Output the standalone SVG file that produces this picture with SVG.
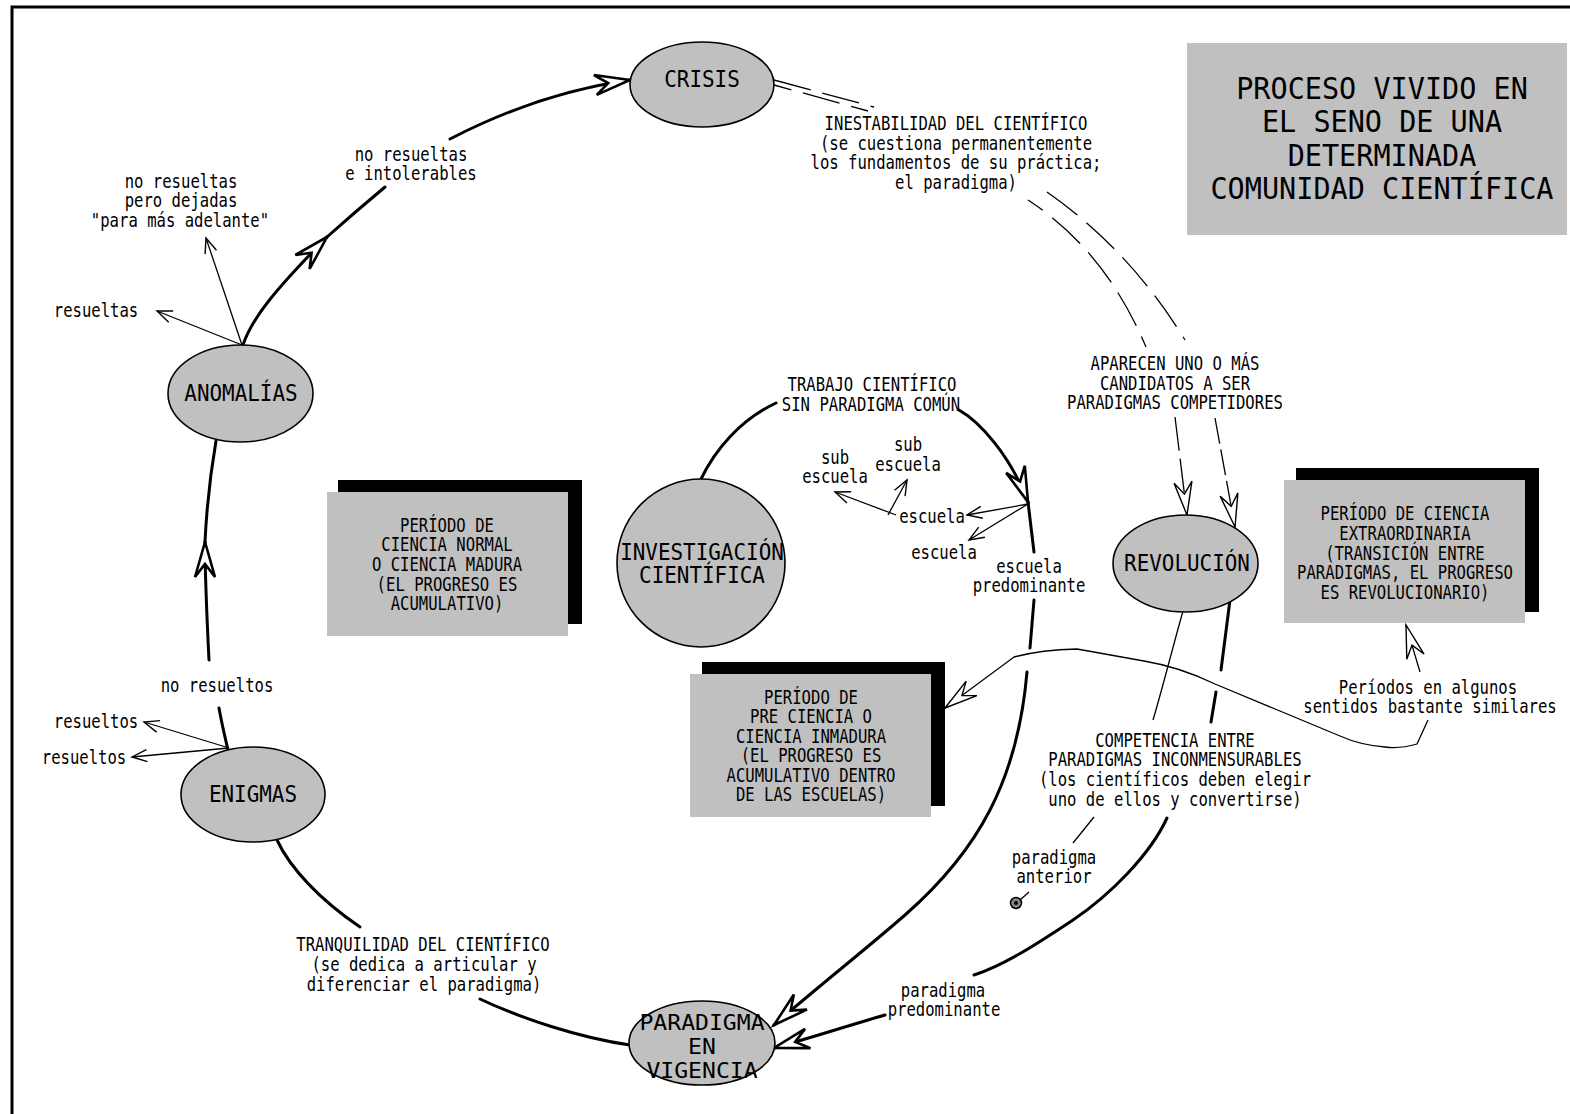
<svg xmlns="http://www.w3.org/2000/svg" width="1570" height="1114" viewBox="0 0 1570 1114">
<style>
text{font-family:"DejaVu Sans Mono","Liberation Mono",monospace;text-anchor:middle;fill:#000;transform-box:fill-box;transform-origin:center}
.s{font-size:19.5px;transform:scaleX(0.8)}
.n{font-size:23px;transform:scaleX(0.91)}
.nb{font-size:21px;transform:scaleX(1.1)}
.t{font-size:30px;transform:scaleX(0.95)}
.node{fill:#c0c0c0;stroke:#000;stroke-width:1.6}
.box{fill:#c0c0c0}
.shadow{fill:#000}
.k{fill:none;stroke:#000;stroke-width:3;stroke-linecap:round;stroke-linejoin:round}
.f{fill:none;stroke:#000;stroke-width:1.3}
.d{fill:none;stroke:#000;stroke-width:1.3;stroke-dasharray:38 12}
</style>
<defs>
<marker id="thin" markerUnits="userSpaceOnUse" viewBox="-18 -9 22 18" markerWidth="22" markerHeight="18" refX="0" refY="0" orient="auto"><path d="M-15,-6 L0,0 L-15,6" fill="none" stroke="#000" stroke-width="1.4"/></marker>
<marker id="big" markerUnits="userSpaceOnUse" viewBox="-40 -14 50 28" markerWidth="50" markerHeight="28" refX="0" refY="0" orient="auto"><path d="M0,0 L-35,-10 L-22,0 L-35,10 Z" fill="#fff" stroke="#000" stroke-width="2.6"/></marker>
<marker id="hollow" markerUnits="userSpaceOnUse" viewBox="-40 -14 50 28" markerWidth="50" markerHeight="28" refX="0" refY="0" orient="auto"><path d="M0,0 L-33,-9 L-21,0 L-33,9 Z" fill="#fff" stroke="#000" stroke-width="1.4"/></marker>
</defs>
<rect width="1570" height="1114" fill="#fff"/>
<path d="M12,1114 L12,7 L1570,7" fill="none" stroke="#000" stroke-width="3"/>

<g id="title">
<rect class="box" x="1187" y="43" width="380" height="192"/>
<text class="t" x="1382" y="99">PROCESO VIVIDO EN</text>
<text class="t" x="1382" y="132">EL SENO DE UNA</text>
<text class="t" x="1382" y="166">DETERMINADA</text>
<text class="t" x="1382" y="199">COMUNIDAD CIENTÍFICA</text>
</g>

<g id="connectors">
<path class="k" d="M243,345 C252,318 275,290 327,237" marker-end="url(#big)"/>
<path class="k" d="M327,237 Q355,212 385,187"/>
<path class="k" d="M450,139 C500,113 560,90 630,80" marker-end="url(#big)"/>
<path class="f" d="M242,345 L157,311" marker-end="url(#thin)"/>
<path class="f" d="M242,345 L206,238" marker-end="url(#thin)"/>
<path class="k" d="M209,660 C207,620 205,580 205,542" marker-end="url(#big)"/>
<path class="k" d="M205,542 C207,500 211,470 216,441"/>
<path class="k" d="M219,708 C222,725 225,737 228,750"/>
<path class="f" d="M229,748 L144,722" marker-end="url(#thin)"/>
<path class="f" d="M229,748 L132,757" marker-end="url(#thin)"/>
<path class="k" d="M277,840 C290,868 320,900 360,927"/>
<path class="k" d="M480,999 C520,1018 580,1038 630,1045"/>
<path class="d" d="M774,80 L874,107"/>
<path class="d" d="M774,85 L868,111" style="stroke-dashoffset:20"/>
<path class="d" d="M1047,192 Q1130,250 1185,340"/>
<path class="d" d="M1028,200 Q1105,250 1146,347" style="stroke-dashoffset:20"/>
<path class="d" d="M1175,417 L1187,515" style="stroke-dasharray:34 8" marker-end="url(#hollow)"/>
<path class="d" d="M1215,418 L1235,527" style="stroke-dasharray:26 6" marker-end="url(#hollow)"/>
<path class="k" d="M701,479 C715,450 740,420 776,403"/>
<path class="k" d="M959,410 C980,422 1010,455 1028,502" marker-end="url(#big)"/>
<path class="k" d="M1028,502 L1034,552"/>
<path class="k" d="M1034,600 L1030,648"/>
<path class="k" d="M1027,672 C1022,730 1008,775 990,810 S945,880 905,915 S820,985 774,1025" marker-end="url(#big)"/>
<path class="f" d="M1028,504 L967,515" marker-end="url(#thin)"/>
<path class="f" d="M1028,504 L969,540" marker-end="url(#thin)"/>
<path class="f" d="M896,515 L835,492" marker-end="url(#thin)"/>
<path class="f" d="M888,515 L907,480" marker-end="url(#thin)"/>
<path class="f" d="M1183,611 C1172,650 1162,690 1153,720"/>
<path class="f" d="M1094,817 L1073,843"/>
<path class="f" d="M1029,892 L1020,900"/>
<path class="k" d="M1230,600 L1221,670"/>
<path class="k" d="M1216,692 L1211,722"/>
<path class="k" d="M1167,818 C1150,855 1110,895 1073,920 C1040,942 1005,965 974,975"/>
<path class="k" d="M885,1015 C850,1025 820,1035 774,1048" marker-end="url(#big)"/>
<path class="f" d="M1428,720 L1417,744 Q1400,749 1385,747 Q1360,745 1340,736 L1215,684 Q1180,667 1144,661 L1077,649 Q1040,650 1014,657 L945,708" marker-end="url(#hollow)"/>
<path class="f" d="M1420,672 L1406,625" marker-end="url(#hollow)"/>
</g>

<g id="crisis">
<ellipse class="node" cx="702" cy="84.5" rx="72" ry="42.5"/>
<text class="n" x="702" y="87">CRISIS</text>
</g>
<g id="anomalias">
<ellipse class="node" cx="240.5" cy="393.5" rx="72.5" ry="48.5"/>
<text class="n" x="241" y="401">ANOMALÍAS</text>
</g>
<g id="enigmas">
<ellipse class="node" cx="253" cy="794.5" rx="72" ry="47.5"/>
<text class="n" x="253" y="802">ENIGMAS</text>
</g>
<g id="paradigma">
<ellipse class="node" cx="702" cy="1043" rx="73" ry="42"/>
<text class="nb" x="702" y="1030">PARADIGMA</text>
<text class="nb" x="702" y="1054">EN</text>
<text class="nb" x="702" y="1078">VIGENCIA</text>
</g>
<g id="revolucion">
<ellipse class="node" cx="1185.5" cy="563.5" rx="72.5" ry="48.5"/>
<text class="n" x="1187" y="571">REVOLUCIÓN</text>
</g>
<g id="investigacion">
<circle class="node" cx="701" cy="563" r="84"/>
<text class="n" x="702" y="560">INVESTIGACIÓN</text>
<text class="n" x="702" y="583">CIENTÍFICA</text>
</g>

<g id="box-normal">
<rect class="shadow" x="338" y="480" width="244" height="144"/>
<rect class="box" x="327" y="492" width="241" height="144"/>
<text class="s" x="447" y="532">PERÍODO DE</text>
<text class="s" x="447" y="551">CIENCIA NORMAL</text>
<text class="s" x="447" y="571">O CIENCIA MADURA</text>
<text class="s" x="447" y="591">(EL PROGRESO ES</text>
<text class="s" x="447" y="610">ACUMULATIVO)</text>
</g>
<g id="box-preciencia">
<rect class="shadow" x="702" y="662" width="243" height="144"/>
<rect class="box" x="690" y="674" width="241" height="143"/>
<text class="s" x="811" y="704">PERÍODO DE</text>
<text class="s" x="811" y="723">PRE CIENCIA O</text>
<text class="s" x="811" y="743">CIENCIA INMADURA</text>
<text class="s" x="811" y="762">(EL PROGRESO ES</text>
<text class="s" x="811" y="782">ACUMULATIVO DENTRO</text>
<text class="s" x="811" y="801">DE LAS ESCUELAS)</text>
</g>
<g id="box-extraordinaria">
<rect class="shadow" x="1296" y="468" width="243" height="144"/>
<rect class="box" x="1284" y="480" width="241" height="143"/>
<text class="s" x="1405" y="520">PERÍODO DE CIENCIA</text>
<text class="s" x="1405" y="540">EXTRAORDINARIA</text>
<text class="s" x="1405" y="560">(TRANSICIÓN ENTRE</text>
<text class="s" x="1405" y="579">PARADIGMAS, EL PROGRESO</text>
<text class="s" x="1405" y="599">ES REVOLUCIONARIO)</text>
</g>

<g id="bullseye">
<circle cx="1016" cy="903" r="5.5" fill="#888" stroke="#000" stroke-width="1.5"/>
<circle cx="1016" cy="903" r="2" fill="#000"/>
</g>

<g id="labels">
<text class="s" x="181" y="188">no resueltas</text>
<text class="s" x="181" y="207">pero dejadas</text>
<text class="s" x="180" y="227">"para más adelante"</text>
<text class="s" x="411" y="161">no resueltas</text>
<text class="s" x="411" y="180">e intolerables</text>
<text class="s" x="96" y="317">resueltas</text>
<text class="s" x="956" y="130">INESTABILIDAD DEL CIENTÍFICO</text>
<text class="s" x="956" y="150">(se cuestiona permanentemente</text>
<text class="s" x="956" y="169">los fundamentos de su práctica;</text>
<text class="s" x="956" y="189">el paradigma)</text>
<text class="s" x="1175" y="370">APARECEN UNO O MÁS</text>
<text class="s" x="1175" y="390">CANDIDATOS A SER</text>
<text class="s" x="1175" y="409">PARADIGMAS COMPETIDORES</text>
<text class="s" x="872" y="391">TRABAJO CIENTÍFICO</text>
<text class="s" x="871" y="411">SIN PARADIGMA COMÚN</text>
<text class="s" x="835" y="464">sub</text>
<text class="s" x="835" y="483">escuela</text>
<text class="s" x="908" y="451">sub</text>
<text class="s" x="908" y="471">escuela</text>
<text class="s" x="932" y="523">escuela</text>
<text class="s" x="944" y="559">escuela</text>
<text class="s" x="1029" y="573">escuela</text>
<text class="s" x="1029" y="592">predominante</text>
<text class="s" x="1428" y="694">Períodos en algunos</text>
<text class="s" x="1430" y="713">sentidos bastante similares</text>
<text class="s" x="217" y="692">no resueltos</text>
<text class="s" x="96" y="728">resueltos</text>
<text class="s" x="84" y="764">resueltos</text>
<text class="s" x="423" y="951">TRANQUILIDAD DEL CIENTÍFICO</text>
<text class="s" x="424" y="971">(se dedica a articular y</text>
<text class="s" x="424" y="991">diferenciar el paradigma)</text>
<text class="s" x="1175" y="747">COMPETENCIA ENTRE</text>
<text class="s" x="1175" y="766">PARADIGMAS INCONMENSURABLES</text>
<text class="s" x="1175" y="786">(los científicos deben elegir</text>
<text class="s" x="1175" y="806">uno de ellos y convertirse)</text>
<text class="s" x="1054" y="864">paradigma</text>
<text class="s" x="1054" y="883">anterior</text>
<text class="s" x="943" y="997">paradigma</text>
<text class="s" x="944" y="1016">predominante</text>
</g>
</svg>
